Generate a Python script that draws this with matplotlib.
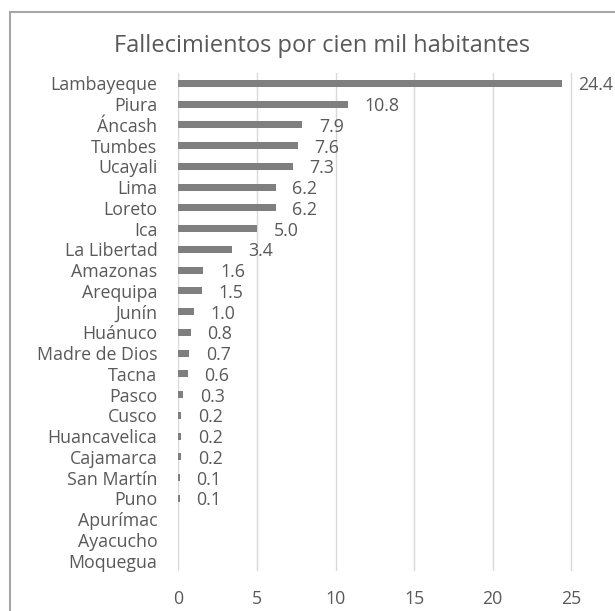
import matplotlib.pyplot as plt
import matplotlib.patches as mpatches

# datos
regiones = ['Lambayeque', 'Piura', 'Áncash', 'Tumbes', 'Ucayali', 'Lima', 'Loreto',
            'Ica', 'La Libertad', 'Amazonas', 'Arequipa', 'Junín', 'Huánuco',
            'Madre de Dios', 'Tacna', 'Pasco', 'Cusco', 'Huancavelica', 'Cajamarca',
            'San Martín', 'Puno', 'Apurímac', 'Ayacucho', 'Moquegua']
tasas = [24.4, 10.8, 7.9, 7.6, 7.3, 6.2, 6.2, 5.0, 3.4, 1.6, 1.5, 1.0, 0.8,
         0.7, 0.6, 0.3, 0.2, 0.2, 0.2, 0.1, 0.1, 0.0, 0.0, 0.0]
ticks_x = [0, 5, 10, 15, 20, 25]
titulo = 'Fallecimientos por cien mil habitantes'

plt.rcParams['font.family'] = ['Open Sans', 'DejaVu Sans']
gris_texto = '#595959'

W, H = 615, 611
fig = plt.figure(figsize=(W / 100, H / 100), dpi=100)

# marco del grafico (sale por la derecha y abajo)
fig.patches.append(mpatches.Rectangle((10 / W, -0.1), 1.2, 1 - 12 / H + 0.1,
                                      transform=fig.transFigure, fill=False,
                                      edgecolor='#a6a6a6', lw=1.5))

# ejes: x=0 en 178 px, 15.72 px por unidad; filas de 20.75 px desde y=73
x0 = 178.3
ancho = 30 * 15.72
top = 73
alto = 24 * 20.75
ax = fig.add_axes([x0 / W, 1 - (top + alto) / H, ancho / W, alto / H])

y = list(range(len(regiones)))
ax.barh(y, tasas, height=0.33, color='#7f7f7f', zorder=3)
ax.set_ylim(len(regiones) - 0.5, -0.5)
ax.set_xlim(0, 30)
ax.set_xticks(ticks_x)
ax.set_yticks(y)
ax.set_yticklabels(regiones)
ax.grid(axis='x', color='#d9d9d9', lw=1, zorder=0)
for s in ax.spines.values():
    s.set_visible(False)
ax.tick_params(length=0, labelsize=12.8, labelcolor=gris_texto)
ax.tick_params(axis='y', pad=15)
ax.tick_params(axis='x', pad=14)

for yi, v in zip(y, tasas):
    if v > 0:
        ax.annotate(f'{v:.1f}', (v, yi), xytext=(12, -1.5), textcoords='offset points',
                    ha='left', va='center', fontsize=12.8, color=gris_texto)

fig.text(321.7 / W, 1 - 52 / H, titulo, ha='center', va='baseline',
         fontsize=17, color=gris_texto)

fig.savefig('out.png', dpi=100)
